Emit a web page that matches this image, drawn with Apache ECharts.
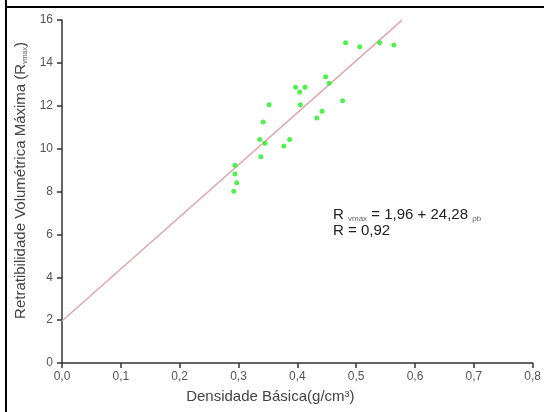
<!DOCTYPE html>
<html>
<head>
<meta charset="utf-8">
<script src="https://cdn.jsdelivr.net/npm/echarts@6/dist/echarts.min.js"></script>
<style>html,body{margin:0;padding:0;background:#fff}#c{width:544px;height:412px}</style>
</head>
<body>
<div id="c"></div>
<script>
var densidade = [0.482,0.506,0.540,0.564,0.448,0.454,0.397,0.413,0.404,0.352,0.405,0.477,0.342,0.442,0.433,0.336,0.345,0.387,0.377,0.338,0.294,0.294,0.297,0.292];
var retratibilidade = [14.94,14.75,14.94,14.83,13.35,13.05,12.86,12.86,12.64,12.05,12.05,12.23,11.24,11.74,11.43,10.43,10.25,10.43,10.12,9.62,9.22,8.82,8.41,8.01];
var intercept = 1.96, slope = 24.28;
var lineX = [0.0, 0.578];
var xTicks = ['0,0','0,1','0,2','0,3','0,4','0,5','0,6','0,7','0,8'];

var pts = densidade.map(function(x,i){return [x, retratibilidade[i]];});
var fit = lineX.map(function(x){return [x, intercept + slope*x];});

var FF = 'Liberation Sans, Arial, sans-serif';
var chart = echarts.init(document.getElementById('c'));
var axisCommon = {
  axisLine:{show:true,lineStyle:{color:'#333',width:1.5}},
  axisTick:{show:true,inside:false,length:5,lineStyle:{color:'#333',width:1.5}},
  splitLine:{show:false},
  axisLabel:{color:'#555',fontSize:12,fontFamily:FF},
  nameTextStyle:{color:'#444',fontSize:15,fontFamily:FF}
};
chart.setOption({
  backgroundColor:'#fff',
  animation:false,
  grid:{left:62,right:11,top:20,bottom:49},
  xAxis:Object.assign({}, axisCommon, {
    type:'value',min:0,max:0.8,interval:0.1,
    name:'Densidade Básica(g/cm³)',nameLocation:'middle',nameGap:26,
    nameTextStyle:Object.assign({}, axisCommon.nameTextStyle,{padding:[0,54,0,0]}),
    axisLabel:Object.assign({}, axisCommon.axisLabel,{margin:8,formatter:function(v){return xTicks[Math.round(v*10)];}})
  }),
  yAxis:Object.assign({}, axisCommon, {
    type:'value',min:0,max:16,interval:2,
    name:'Retratibilidade Volumétrica Máxima (R{s|vmax})',nameLocation:'middle',nameGap:24,
    nameTextStyle:Object.assign({}, axisCommon.nameTextStyle,{padding:[0,0,0,22],rich:{s:{fontSize:7,color:'#555',verticalAlign:'bottom'}}}),
    axisLabel:Object.assign({}, axisCommon.axisLabel,{margin:9})
  }),
  series:[
    {type:'line',data:fit,showSymbol:false,symbol:'none',lineStyle:{color:'#e0a8a8',width:1.5},z:1},
    {type:'scatter',data:pts,symbolSize:5,itemStyle:{color:'#22ee22'},z:2}
  ],
  graphic:[
    {type:'line',shape:{x1:6,y1:0,x2:6,y2:412},style:{stroke:'#000',lineWidth:2}},
    {type:'line',shape:{x1:5,y1:7,x2:544,y2:7},style:{stroke:'#000',lineWidth:2}},
    {type:'text',left:333,top:207,style:{
      text:'R {s|vmax} = 1,96 + 24,28 {s|ρb}\nR = 0,92',
      font:'15px Liberation Sans, Arial, sans-serif',fill:'#222',lineHeight:16,
      rich:{s:{fontSize:8,fill:'#666',verticalAlign:'bottom'}}
    }}
  ]
});
</script>
</body>
</html>
